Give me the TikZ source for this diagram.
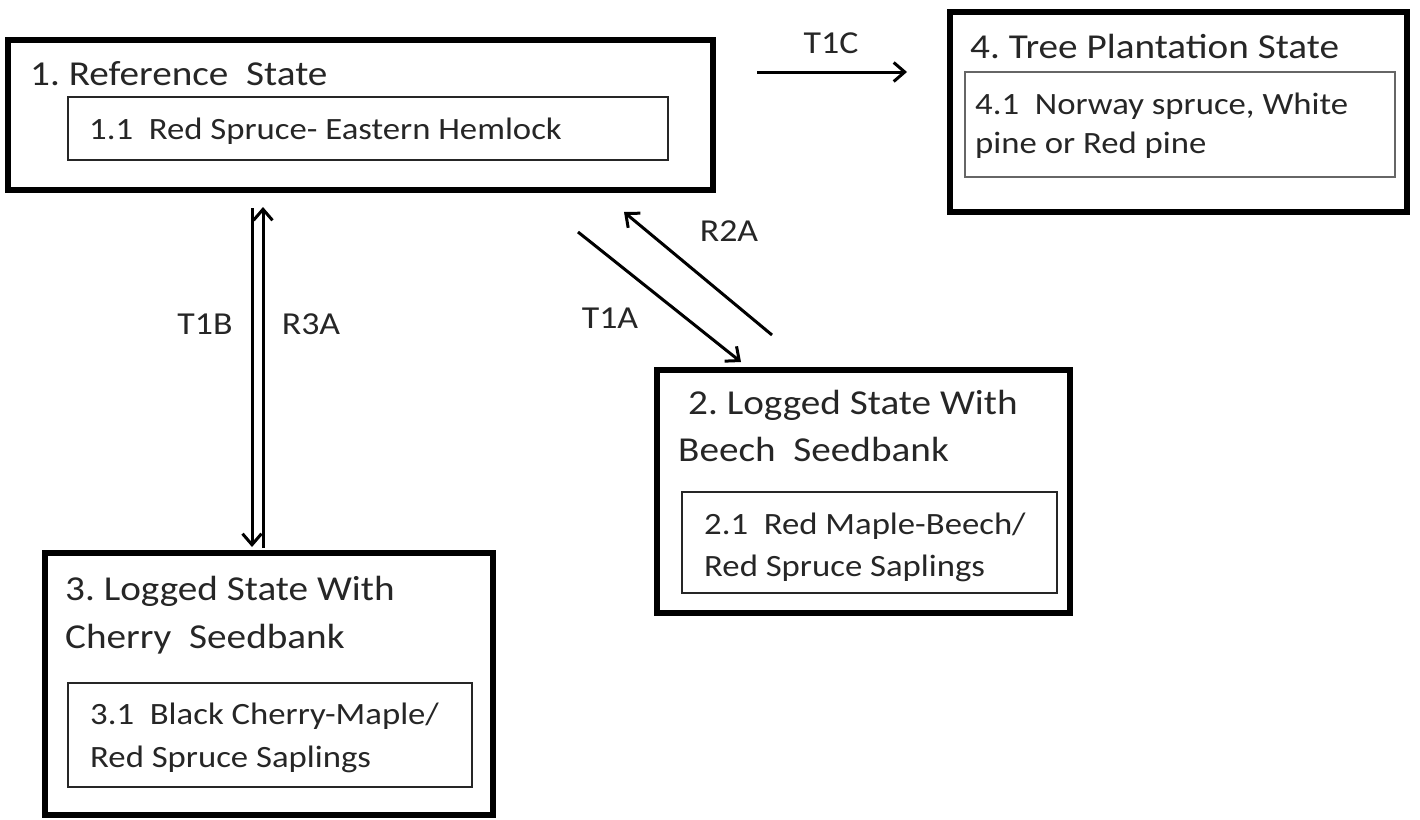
\documentclass[tikz,border=0pt]{standalone}
\usepackage{fontspec}
\setmainfont{Carlito}[FakeStretch=1.12]
\usetikzlibrary{arrows.meta}
\frenchspacing
\begin{document}
\begin{tikzpicture}[x=1pt,y=-1pt,
  obox/.style={draw=black,line width=6pt,rectangle,inner sep=0pt},
  ibox/.style={draw=black!85,line width=2.5pt,rectangle,inner sep=0pt},
  ttl/.style={anchor=base west,inner sep=0pt,text=black!85,font=\fontsize{35}{40}\selectfont},
  txt/.style={anchor=base west,inner sep=0pt,text=black!85,font=\fontsize{31}{40}\selectfont},
  lbl/.style={anchor=center,inner sep=0pt,text=black!85,font=\fontsize{32}{40}\selectfont},
  arr/.style={line width=3pt,-{Straight Barb[length=11pt,width=19pt,line width=3pt]}}]
\useasboundingbox (0,0) rectangle (1420,819);
% boxes
\node[obox,minimum width=705pt,minimum height=150pt] (b1) at (360.5,115) {};
\node[ibox,minimum width=600pt,minimum height=63pt] (b11) at (368,128.5) {};
\node[obox,minimum width=457pt,minimum height=200pt] (b4) at (1178.5,112) {};
\node[ibox,draw=black!60,line width=2pt,minimum width=430pt,minimum height=105pt] (b41) at (1180,124.5) {};
\node[obox,minimum width=413pt,minimum height=243pt] (b2) at (863.5,491.5) {};
\node[ibox,minimum width=375pt,minimum height=101pt] (b21) at (869.5,542.5) {};
\node[obox,minimum width=448pt,minimum height=262pt] (b3) at (269,684) {};
\node[ibox,minimum width=404pt,minimum height=104pt] (b31) at (270,735) {};
% texts
\node[ttl] (t1) at (30,85) {1. Reference\ \ State};
\node[txt] (t11) at (89,139) {1.1\ \ Red Spruce- Eastern Hemlock};
\node[ttl] (t4) at (970,58) {4. Tree Plantation State};
\node[txt] (t41a) at (975,114) {4.1\ \ Norway spruce, White};
\node[txt] (t41b) at (975,153) {pine or Red pine};
\node[ttl] (t2a) at (688,414) {2. Logged State With};
\node[ttl] (t2b) at (678,461) {Beech\ \ Seedbank};
\node[txt] (t21a) at (704,534) {2.1\ \ Red Maple-Beech/};
\node[txt] (t21b) at (704,576) {Red Spruce Saplings};
\node[ttl] (t3a) at (65,600) {3. Logged State With};
\node[ttl] (t3b) at (65,648) {Cherry\ \ Seedbank};
\node[txt] (t31a) at (90,724) {3.1\ \ Black Cherry-Maple/};
\node[txt] (t31b) at (90,767) {Red Spruce Saplings};
% labels
\node[lbl] (l1c) at (831,43) {T1C};
\node[lbl] (l1b) at (205,324) {T1B};
\node[lbl] (l3a) at (311,324) {R3A};
\node[lbl] (l1a) at (610,318) {T1A};
\node[lbl] (l2a) at (729,231) {R2A};
% connector end points
\coordinate (c1cS) at (757,72);
\coordinate (c1cE) at (907,72);
\coordinate (c1bS) at (252,208);
\coordinate (c1bE) at (252,547);
\coordinate (c3aS) at (263,548);
\coordinate (c3aE) at (263,207);
\coordinate (c1aS) at (578,232);
\coordinate (c1aE) at (741,362);
\coordinate (c2aS) at (772,335);
\coordinate (c2aE) at (624,212);
\draw[arr] (c1cS) -- (c1cE);
\draw[arr] (c1bS) -- (c1bE);
\draw[arr] (c3aS) -- (c3aE);
\draw[arr] (c1aS) -- (c1aE);
\draw[arr] (c2aS) -- (c2aE);
\end{tikzpicture}
\end{document}
